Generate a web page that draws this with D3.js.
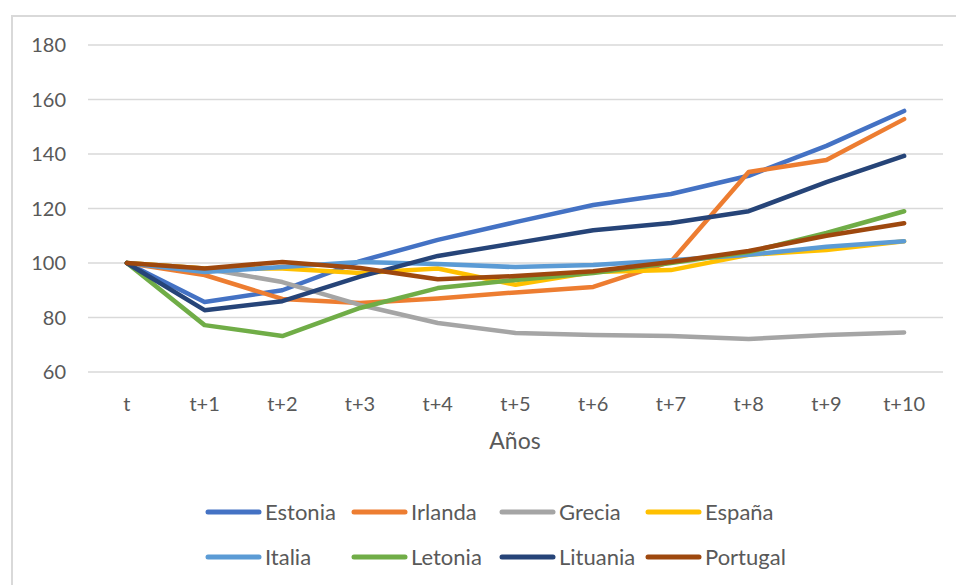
<!DOCTYPE html>
<html>
<head>
<meta charset="utf-8">
<script src="https://cdn.jsdelivr.net/npm/d3@7"></script>
<style>
  body { margin: 0; background: #fff; }
  text { font-family: Lato, "Open Sans", sans-serif; fill: #595959; }
</style>
</head>
<body>
<script>
// data
var years = ['t', 't+1', 't+2', 't+3', 't+4', 't+5', 't+6', 't+7', 't+8', 't+9', 't+10'];
var yTicks = [60, 80, 100, 120, 140, 160, 180];
var names = ['Estonia', 'Irlanda', 'Grecia', 'España', 'Italia', 'Letonia', 'Lituania', 'Portugal'];
var colors = ['#4472C4', '#ED7D31', '#A5A5A5', '#FFC000', '#5B9BD5', '#70AD47', '#264478', '#9E480E'];

var estonia  = [100, 85.7, 90, 100.7, 108.5, 115, 121.3, 125.3, 132, 143, 155.8];
var irlanda  = [100, 95.6, 86.8, 85.3, 87, 89.2, 91.2, 100.5, 133.4, 137.8, 152.8];
var grecia   = [100, 98, 93, 84.6, 78, 74.3, 73.6, 73.2, 72.1, 73.6, 74.5];
var espana   = [100, 98, 98, 96.3, 98, 92, 96.7, 97.4, 103, 104.8, 108];
var italia   = [100, 96.7, 98.5, 100.4, 99.6, 98.5, 99.3, 101, 103, 106, 108];
var letonia  = [100, 77.2, 73.2, 83.5, 90.8, 93.8, 96.3, 100, 104, 111, 119];
var lituania = [100, 82.7, 86, 95, 102.6, 107.3, 112, 114.7, 119, 129.7, 139.3];
var portugal = [100, 98, 100.4, 98.2, 94, 95.2, 97, 100.4, 104.4, 110, 114.6];

var series = [estonia, irlanda, grecia, espana, italia, letonia, lituania, portugal];

var width = 956, height = 585;

var svg = d3.select('body').append('svg')
    .attr('width', width)
    .attr('height', height);

// chart frame (runs off the right and bottom edges)
svg.append('rect')
    .attr('x', 12).attr('y', 16)
    .attr('width', 960).attr('height', 600)
    .attr('fill', 'none')
    .attr('stroke', '#D9D9D9')
    .attr('stroke-width', 2);

var x = d3.scalePoint()
    .domain(years)
    .range([88, 943])
    .padding(0.5);

var y = d3.scaleLinear()
    .domain([60, 180])
    .range([372, 45]);

// gridlines
svg.append('g')
    .selectAll('line')
    .data(yTicks)
    .enter().append('line')
    .attr('x1', 88).attr('x2', 943)
    .attr('y1', function(d) { return y(d); })
    .attr('y2', function(d) { return y(d); })
    .attr('stroke', '#D9D9D9')
    .attr('stroke-width', 1.5);

// y labels
svg.append('g')
    .selectAll('text')
    .data(yTicks)
    .enter().append('text')
    .attr('x', 66)
    .attr('y', function(d) { return y(d); })
    .attr('dy', '0.36em')
    .attr('text-anchor', 'end')
    .style('font-size', '20px')
    .text(function(d) { return d; });

// x labels
svg.append('g')
    .selectAll('text')
    .data(years)
    .enter().append('text')
    .attr('x', function(d) { return x(d); })
    .attr('y', 404)
    .attr('dy', '0.36em')
    .attr('text-anchor', 'middle')
    .style('font-size', '20px')
    .text(function(d) { return d; });

svg.append('text')
    .attr('x', 515)
    .attr('y', 441)
    .attr('dy', '0.36em')
    .attr('text-anchor', 'middle')
    .style('font-size', '23px')
    .text('Años');

var line = d3.line()
    .x(function(d, i) { return x(years[i]); })
    .y(function(d) { return y(d); });

svg.append('g')
    .selectAll('path')
    .data(series)
    .enter().append('path')
    .attr('d', line)
    .attr('fill', 'none')
    .attr('stroke', function(d, i) { return colors[i]; })
    .attr('stroke-width', 4.5)
    .attr('stroke-linecap', 'round')
    .attr('stroke-linejoin', 'round');

// legend
var legX = [206, 352, 500, 646];
var legY = [512, 557];

var leg = svg.append('g')
    .selectAll('g')
    .data(names)
    .enter().append('g')
    .attr('transform', function(d, i) {
        return 'translate(' + legX[i % 4] + ',' + legY[Math.floor(i / 4)] + ')';
    });

leg.append('line')
    .attr('x1', 2).attr('x2', 53)
    .attr('y1', 0).attr('y2', 0)
    .attr('stroke', function(d, i) { return colors[i]; })
    .attr('stroke-width', 5)
    .attr('stroke-linecap', 'round');

leg.append('text')
    .attr('x', 59)
    .attr('y', 0)
    .attr('dy', '0.36em')
    .style('font-size', '22px')
    .text(function(d) { return d; });
</script>
</body>
</html>
